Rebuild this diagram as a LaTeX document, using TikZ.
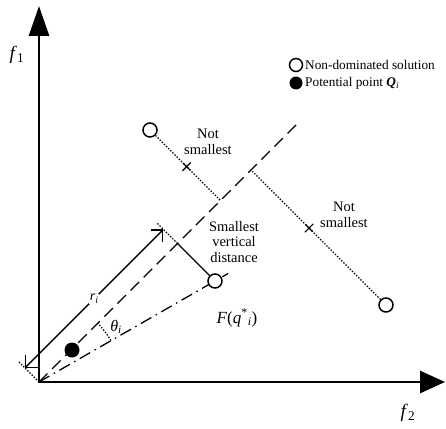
\documentclass[tikz,border=0pt]{standalone}
\usepackage{fontspec}
\setmainfont{Liberation Serif}
\usetikzlibrary{calc,arrows.meta}
\tikzset{
  axis/.style={line width=2.8pt},
  dashref/.style={line width=1.4pt, dash pattern=on 12pt off 6.5pt},
  dashdotref/.style={line width=1.3pt, dash pattern=on 12pt off 5pt on 1.5pt off 5pt},
  dotline/.style={line width=1.3pt, dash pattern=on 1.4pt off 1.6pt},
  solidline/.style={line width=1.4pt},
  opencirc/.style={circle, draw, line width=1.5pt, fill=white, minimum size=14pt, inner sep=0pt},
  fillcirc/.style={circle, fill=black, minimum size=15pt, inner sep=0pt},
  lbl/.style={font=\fontsize{14.5}{15.5}\selectfont, align=center, inner sep=1pt},
  leg/.style={font=\fontsize{13.3}{15}\selectfont, anchor=west, inner sep=1pt},
  axlbl/.style={font=\fontsize{19}{19}\selectfont, inner sep=0pt},
  dimarrow/.style={line width=1.4pt, {Straight Barb[length=8.5pt,width=17pt]}-{Straight Barb[length=8.5pt,width=17pt]}},
}
\begin{document}
\begin{tikzpicture}[x=1pt,y=-1pt]
\useasboundingbox (0,0) rectangle (446,428);
% key coordinates
\coordinate (O) at (39,382);
\coordinate (Ytip) at (39,6);
\coordinate (Xtip) at (445,382);
\coordinate (Dend) at ($(O)+(-45:366)$);
\coordinate (Fpos) at (215,281);
\coordinate (Fext) at ($(O)!1.075!(Fpos)$);
% reference lines
\draw[dashref] (O) -- (Dend);
\draw[dashdotref] (O) -- (Fext);
% axes
\draw[axis, {Triangle[length=30pt,width=20pt]}-{Triangle[length=25pt,width=22pt]}] (Ytip) -- (O) -- (Xtip);
% nodes
\node[opencirc] (P1) at (150,130) {};
\node[opencirc] (P2) at (386,305) {};
\node[opencirc] (Fq) at (Fpos) {};
\node[fillcirc] (Q) at (72,350) {};
% projections
\coordinate (F1) at ($(O)!(P1)!(Dend)$);
\coordinate (F2) at ($(O)!(P2)!(Dend)$);
\coordinate (Fp) at ($(O)!(Fq)!(Dend)$);
\draw[dotline] (P1) -- (F1);
\draw[dotline] (P2) -- (F2);
\draw[solidline] (Fq) -- (Fp);
% crosses
\coordinate (C1) at ($(P1)!0.52!(F1)$);
\coordinate (C2) at ($(F2)!0.43!(P2)$);
\foreach \c in {C1,C2}{
  \draw[line width=1.2pt] ($(\c)+(-45:6)$) -- ($(\c)+(135:6)$);
  \draw[line width=1.2pt] ($(\c)+(45:5)$) -- ($(\c)+(-135:5)$);
}
% dimension r_i
\coordinate (A1) at ($(O)+(-14.1,-14.1)$);
\coordinate (A2) at ($(Fp)+(-14.1,-14.1)$);
\coordinate (E1) at ($(O)!1.5!(A1)$);
\coordinate (E2) at ($(Fp)!1.5!(A2)$);
\draw[dotline] (O) -- (E1);
\draw[dotline] (Fp) -- (E2);
\draw[dimarrow] (A1) -- (A2) node[midway, fill=white, inner sep=0.5pt, font=\fontsize{14}{14}\selectfont] (rlbl) {\textit{r}\textsubscript{\textit{i}}};
% angle
\draw[dotline] ($(O)+(-30:83)$) arc[start angle=-30, end angle=-45, radius=83];
\node[lbl, font=\fontsize{16}{16}\selectfont] (th) at (116,327) {\textit{θ}\textsubscript{\textit{i}}};
% labels
\node[axlbl] (f1) at (17,55) {\textit{f}\textsubscript{1}};
\node[axlbl] (f2) at (408,413) {\textit{f}\textsubscript{2}};
\node[lbl] (ns1) at (208,142) {Not\\smallest};
\node[lbl] (ns2) at (344,215) {Not\\smallest};
\node[lbl] (svd) at (234,242) {Smallest\\vertical\\distance};
\node[lbl, font=\fontsize{17}{17}\selectfont] (Flbl) at (237,318) {\textit{F}(\textit{q}\textsuperscript{*}\textsubscript{\textit{i}})};
% legend
\node[opencirc, minimum size=13pt] (L1) at (296,65) {};
\node[fillcirc, minimum size=13pt] (L2) at (296,83) {};
\node[leg] (L1t) at (304,65) {Non-dominated solution};
\node[leg] (L2t) at (304,83) {Potential point \textbf{\textit{Q}}\textsubscript{\textit{i}}};
\end{tikzpicture}
\end{document}
